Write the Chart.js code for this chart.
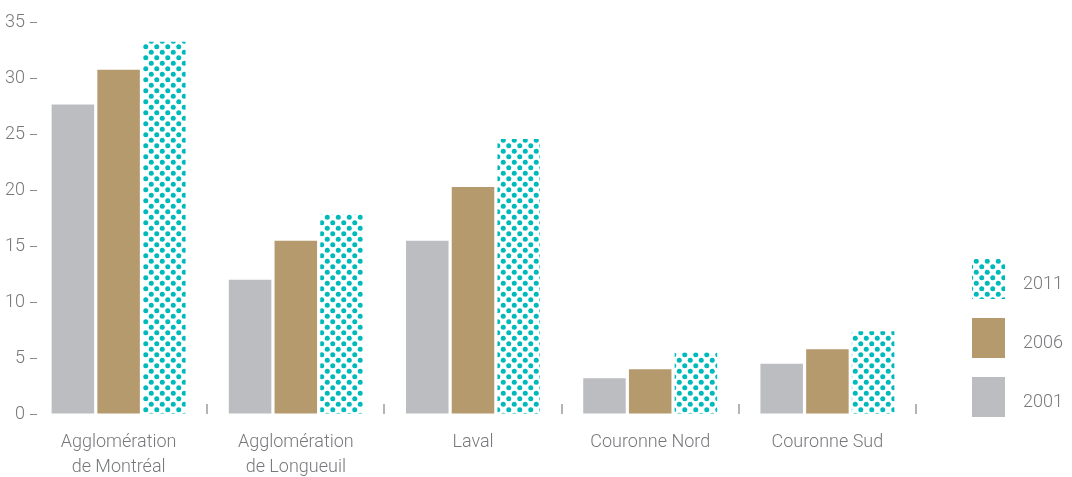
<!DOCTYPE html>
<html>
<head>
<meta charset="utf-8">
<script src="https://cdn.jsdelivr.net/npm/chart.js@4/dist/chart.umd.min.js"></script>
<style>
  body { margin: 0; background: #fff; }
  canvas { display: block; }
</style>
</head>
<body>
<canvas id="chart" width="1072" height="477"></canvas>
<script>
var categories = [
  ["Agglomération", "de Montréal"],
  ["Agglomération", "de Longueuil"],
  "Laval",
  "Couronne Nord",
  "Couronne Sud"
];
var years = ["2001", "2006", "2011"];
var v2001 = [27.7, 12.0, 15.5, 3.2, 4.5];
var v2006 = [30.8, 15.5, 20.3, 4.0, 5.8];
var v2011 = [33.3, 17.9, 24.6, 5.5, 7.4];
var yTicks = [0, 5, 10, 15, 20, 25, 30, 35];

const textColor = "#77787b";
const fontFamily = "Roboto, 'Liberation Sans', sans-serif";

// teal dots pattern for 2011
function makeDots() {
  var c = document.createElement("canvas");
  c.width = 11;
  c.height = 11;
  var g = c.getContext("2d");
  g.fillStyle = "#ffffff";
  g.fillRect(0, 0, 11, 11);
  g.fillStyle = "#00b9bb";
  [[2.75, 2.75], [8.25, 8.25]].forEach(function (p) {
    g.beginPath();
    g.arc(p[0], p[1], 2.5, 0, Math.PI * 2);
    g.fill();
  });
  return document.getElementById("chart").getContext("2d").createPattern(c, "repeat");
}
const dots = makeDots();

// legend drawn on the right, newest year on top
const sideLegend = {
  id: "sideLegend",
  afterDraw(chart) {
    const ctx = chart.ctx;
    const items = chart.data.datasets.slice().reverse();
    ctx.save();
    ctx.font = "300 18px " + fontFamily;
    ctx.textBaseline = "middle";
    ctx.textAlign = "left";
    items.forEach(function (ds, i) {
      const top = 259 + i * 59;
      ctx.fillStyle = ds.backgroundColor;
      ctx.fillRect(972, top, 33, 40);
      ctx.fillStyle = textColor;
      ctx.fillText(ds.label, 1023, top + 25);
    });
    ctx.restore();
  }
};

var ctx = document.getElementById("chart").getContext("2d");
var chart = new Chart(ctx, {
  type: "bar",
  data: {
    labels: categories,
    datasets: [
      { label: years[0], data: v2001, backgroundColor: "#bcbdc1" },
      { label: years[1], data: v2006, backgroundColor: "#b59a6e" },
      { label: years[2], data: v2011, backgroundColor: dots }
    ]
  },
  options: {
    responsive: false,
    animation: false,
    categoryPercentage: 0.774,
    barPercentage: 0.93,
    layout: {
      padding: { top: 22, right: 156, left: 0, bottom: 0 }
    },
    plugins: {
      legend: { display: false },
      tooltip: { enabled: false }
    },
    scales: {
      x: {
        border: { display: false },
        grid: {
          offset: true,
          drawOnChartArea: false,
          tickLength: -10,
          lineWidth: 2,
          color: (c) => (c.index === 0 ? "rgba(0,0,0,0)" : "#b4b4b4"),
          tickColor: (c) => (c.index === 0 ? "rgba(0,0,0,0)" : "#b4b4b4")
        },
        ticks: {
          color: textColor,
          padding: 26,
          maxRotation: 0,
          autoSkip: false,
          font: { family: fontFamily, size: 18, weight: 300, lineHeight: 1.4 }
        },
        afterFit: (scale) => {
          scale.height = 63;
        }
      },
      y: {
        min: 0,
        max: 35,
        border: { display: false },
        grid: {
          drawOnChartArea: false,
          drawTicks: true,
          tickLength: -7,
          lineWidth: 1,
          color: "#8a8a8a"
        },
        afterBuildTicks: (scale) => {
          scale.ticks = yTicks.map((v) => ({ value: v }));
        },
        ticks: {
          color: textColor,
          padding: 12,
          font: { family: fontFamily, size: 18, weight: 300 }
        },
        afterFit: (scale) => {
          scale.width = 30;
        }
      }
    }
  },
  plugins: [sideLegend]
});
</script>
</body>
</html>
